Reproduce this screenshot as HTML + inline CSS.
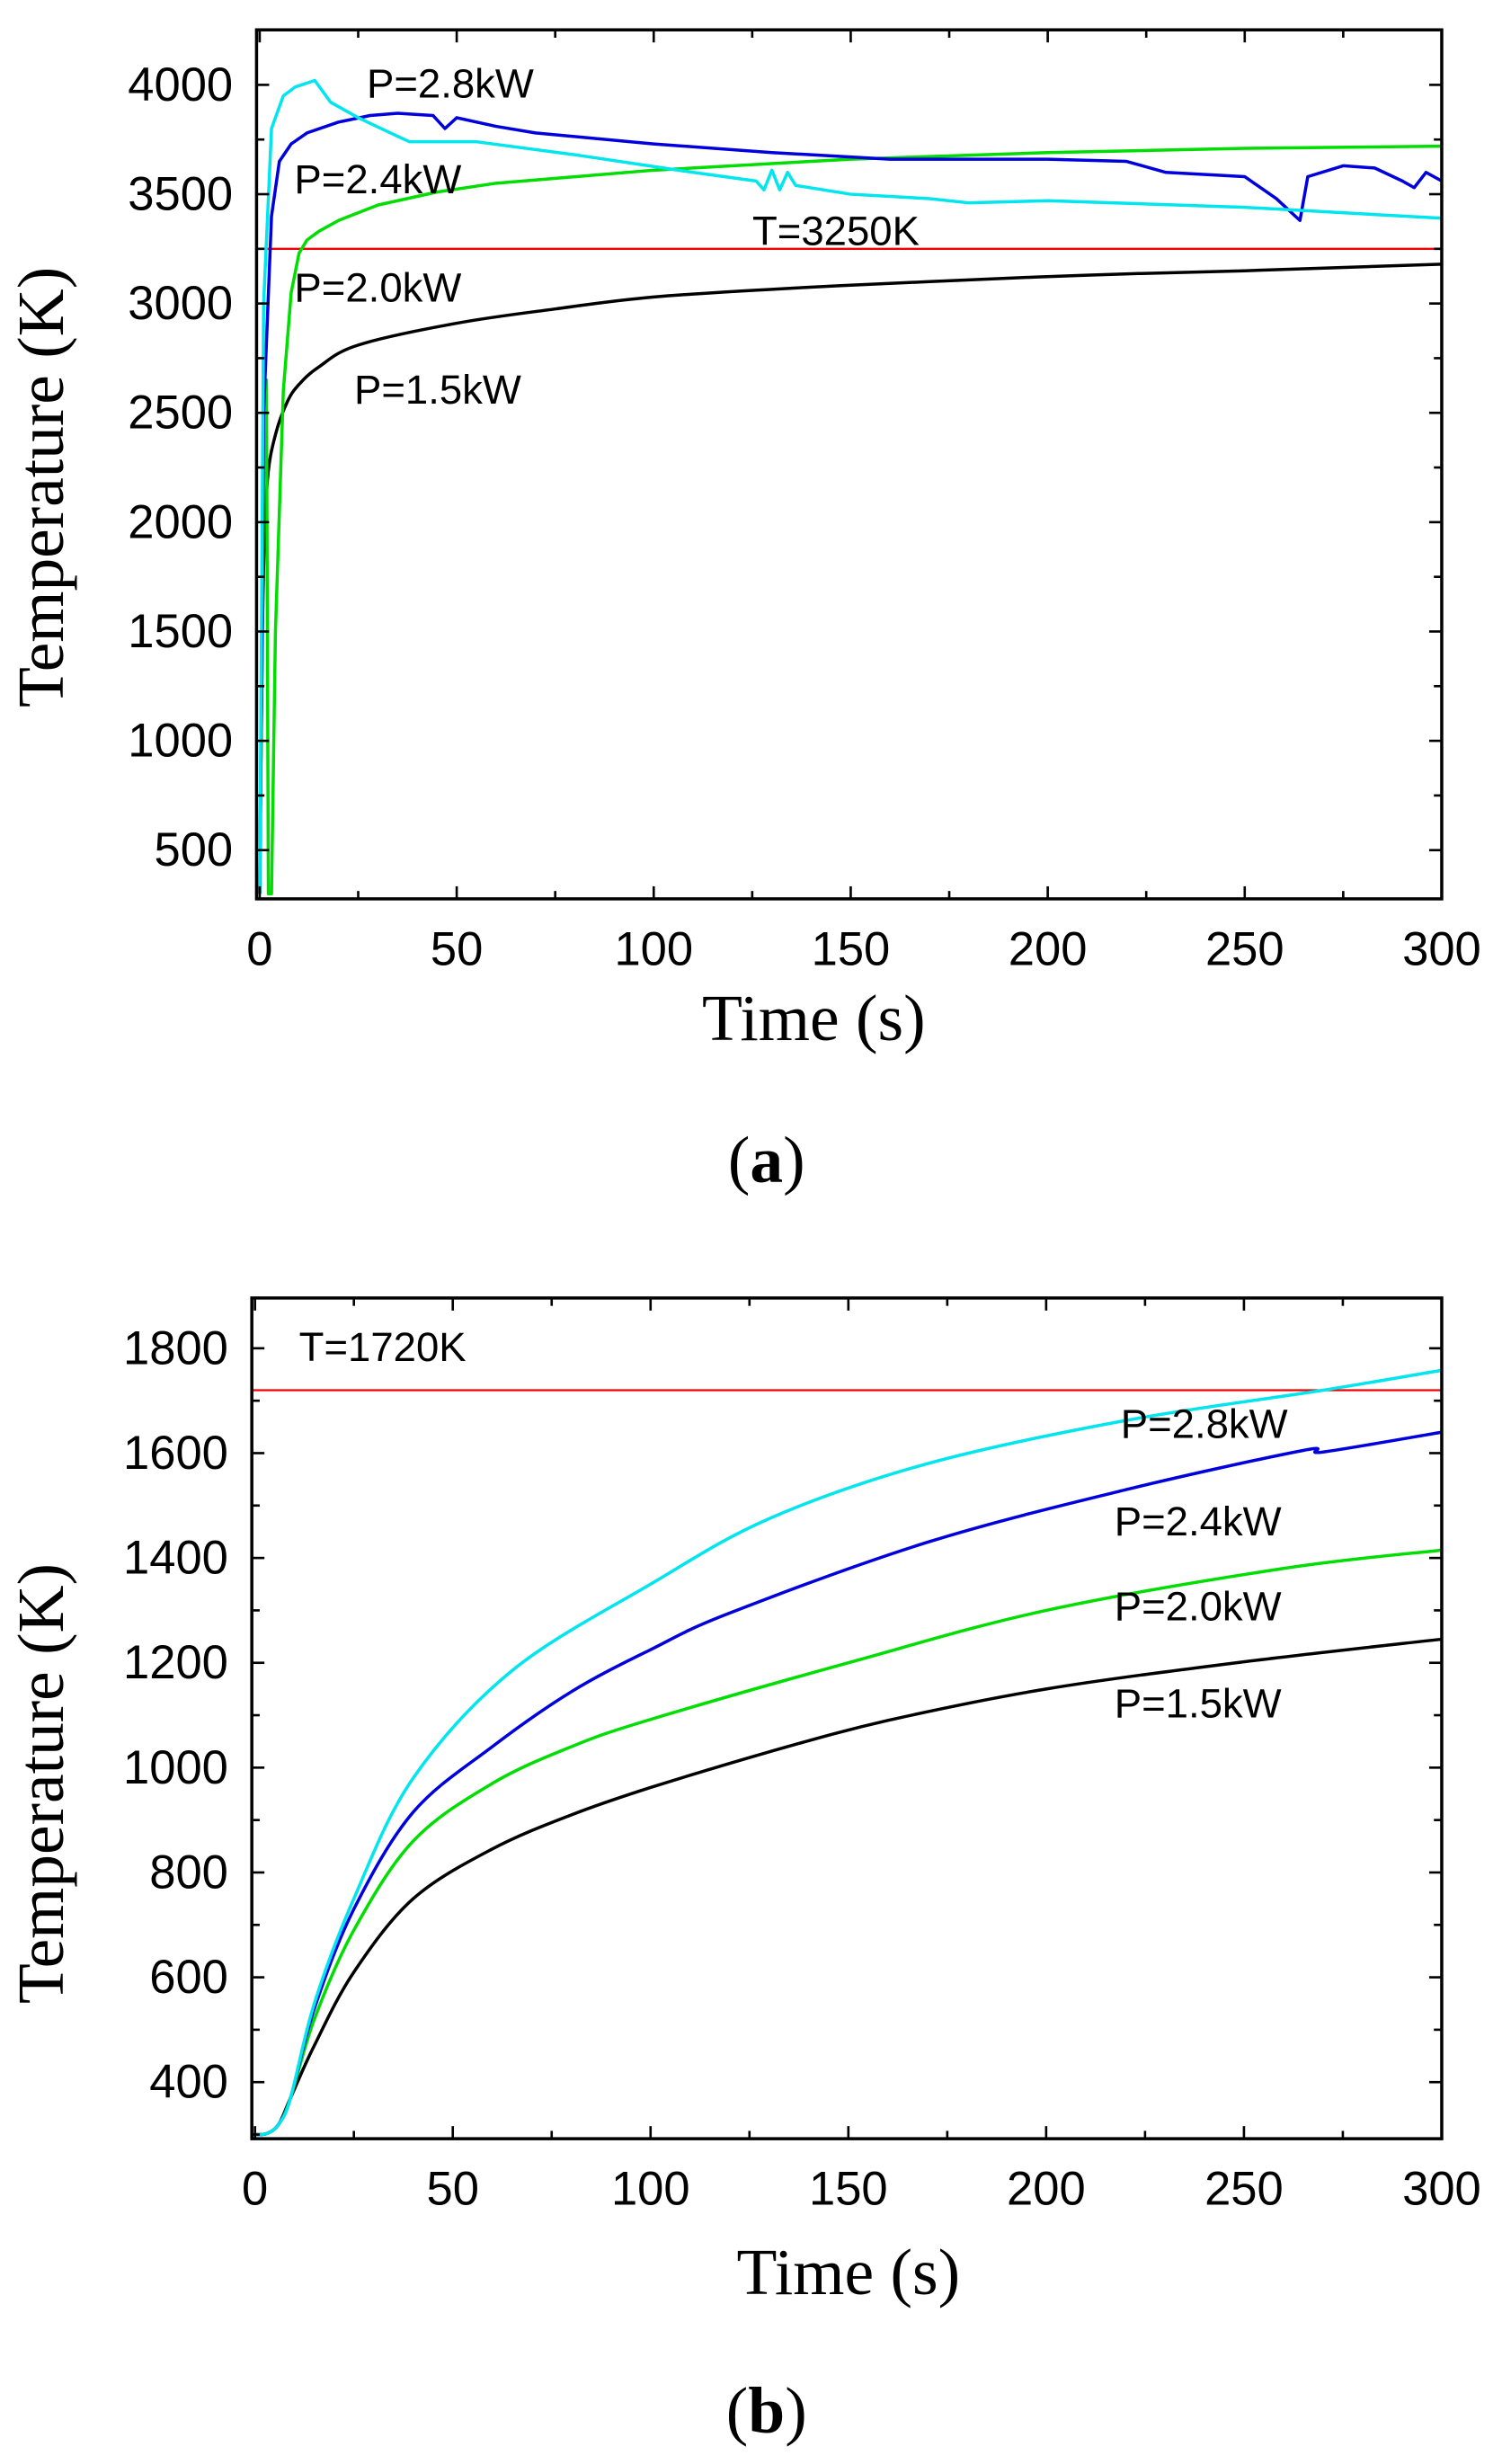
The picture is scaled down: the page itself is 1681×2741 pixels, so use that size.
<!DOCTYPE html>
<html><head><meta charset="utf-8"><style>
html,body{margin:0;padding:0;background:#fff;}
svg{display:block;}
.t{font-family:"Liberation Sans",sans-serif;font-size:30px;fill:#000;}
.s{font-family:"Liberation Serif",serif;font-size:42px;fill:#000;}
.l{font-family:"Liberation Sans",sans-serif;font-size:26px;fill:#000;}
</style></head><body>
<svg id="svg" width="1681" height="2741" viewBox="0 0 960 1568" preserveAspectRatio="none" xmlns="http://www.w3.org/2000/svg">
<g id="g"></g>
<text class="s" x="25" y="295" text-anchor="middle" transform="rotate(-90 40 295)">Temperature (K)</text>
<text class="s" x="517" y="662" text-anchor="middle">Time (s)</text>
<text class="s" x="487" y="752" text-anchor="middle">(<tspan font-weight="bold">a</tspan>)</text>
<text class="s" x="25" y="1120" text-anchor="middle" transform="rotate(-90 40 1120)">Temperature (K)</text>
<text class="s" x="539" y="1460" text-anchor="middle">Time (s)</text>
<text class="s" x="487" y="1548" text-anchor="middle">(<tspan font-weight="bold">b</tspan>)</text>
<text class="l" x="233" y="62">P=2.8kW</text>
<text class="l" x="187" y="123">P=2.4kW</text>
<text class="l" x="478" y="156">T=3250K</text>
<text class="l" x="187" y="192">P=2.0kW</text>
<text class="l" x="225" y="257">P=1.5kW</text>
<text class="l" x="190" y="866">T=1720K</text>
<text class="l" x="712" y="915">P=2.8kW</text>
<text class="l" x="708" y="977">P=2.4kW</text>
<text class="l" x="708" y="1031">P=2.0kW</text>
<text class="l" x="708" y="1093">P=1.5kW</text>
</svg>
<script>
var g=document.getElementById('g'),NS='http://www.w3.org/2000/svg';
function el(n,a){var e=document.createElementNS(NS,n);for(var k in a)e.setAttribute(k,a[k]);g.appendChild(e);return e;}
function smoothPath(P){
 var d='M'+P[0][0].toFixed(1)+' '+P[0][1].toFixed(1);
 for(var i=0;i<P.length-1;i++){
  var p0=P[i-1]||P[i],p1=P[i],p2=P[i+1],p3=P[i+2]||p2;
  var c1=[p1[0]+(p2[0]-p0[0])/6,p1[1]+(p2[1]-p0[1])/6];
  var c2=[p2[0]-(p3[0]-p1[0])/6,p2[1]-(p3[1]-p1[1])/6];
  d+='C'+c1[0].toFixed(1)+' '+c1[1].toFixed(1)+' '+c2[0].toFixed(1)+' '+c2[1].toFixed(1)+' '+p2[0].toFixed(1)+' '+p2[1].toFixed(1);
 }
 return d;
}
function chart(c){
 var X=function(t){return c.x0+(c.x1-c.x0)*t/300;};
 var Y=function(v){return c.ya+(c.yb-c.ya)*(v-c.va)/(c.vb-c.va);};
 el('defs',{}).innerHTML='<clipPath id="c'+c.id+'"><rect x="'+c.L+'" y="'+c.T+'" width="'+(c.R-c.L)+'" height="'+(c.B-c.T)+'"/></clipPath>';
 el('line',{x1:c.L,x2:c.R,y1:Y(c.ref),y2:Y(c.ref),stroke:'#e00',"stroke-width":1.3});
 var cols={k:'#000',g:'#00dd00',b:'#0000dd',c:'#00e5ee'};
 c.series.forEach(function(s){
  var P=s.p.map(function(p){return [X(p[0]),Y(p[1])];});
  var d=s.sm?smoothPath(P):P.map(function(p,i){return (i?'L':'M')+p[0].toFixed(1)+' '+p[1].toFixed(1);}).join('');
  el('path',{d:d,fill:'none',stroke:cols[s.c],"stroke-width":2,"stroke-linejoin":"round","clip-path":'url(#c'+c.id+')'});
 });
 el('rect',{x:c.L,y:c.T,width:c.R-c.L,height:c.B-c.T,fill:'none',stroke:'#000',"stroke-width":2});
 for(var t=0;t<=300;t+=25){var x=X(t),M=t%50==0,len=M?8:5;
  el('line',{x1:x,x2:x,y1:c.B,y2:c.B-len,stroke:'#000',"stroke-width":1.5});
  el('line',{x1:x,x2:x,y1:c.T,y2:c.T+len,stroke:'#000',"stroke-width":1.5});
  if(M){var e=el('text',{x:x,y:c.B+42,"text-anchor":"middle","class":"t"});e.textContent=t;}}
 for(var v=c.va;v<=c.vmax;v+=c.step/2){var y=Y(v),M=Math.round((v-c.va)/c.step*2)%2==0,len=M?8:5;
  if(y<c.T||y>c.B)continue;
  el('line',{x1:c.L,x2:c.L+len,y1:y,y2:y,stroke:'#000',"stroke-width":1.5});
  el('line',{x1:c.R,x2:c.R-len,y1:y,y2:y,stroke:'#000',"stroke-width":1.5});
  if(M){var e=el('text',{x:c.L-15,y:y+10,"text-anchor":"end","class":"t"});e.textContent=v;}}
 var y=Y(c.va-c.step/2);if(y<c.B)el('line',{x1:c.L,x2:c.L+5,y1:y,y2:y,stroke:'#000',"stroke-width":1.5});
}
chart({id:1,L:163,R:916,T:19,B:572,x0:165,x1:916,ya:541,yb:54,va:500,vb:4000,vmax:4000,step:500,ref:3250,series:[
 {c:'k',sm:1,p:[[0,300],[0.5,1200],[1,1800],[2,2200],[4,2400],[7,2550],[10,2630],[15,2710],[25,2810],[50,2910],[75,2975],[100,3030],[135,3070],[170,3100],[210,3130],[250,3150],[300,3180]]},
 {c:'g',p:[[0,300],[1,2200],[1.7,2650],[2.2,300],[3,300],[4,1500],[6,2600],[8,3050],[10,3230],[12,3290],[15,3330],[20,3380],[30,3450],[45,3510],[60,3550],[100,3610],[150,3660],[200,3690],[250,3710],[300,3720]]},
 {c:'b',p:[[0,300],[1,2500],[3,3400],[5,3650],[8,3730],[12,3780],[20,3830],[28,3860],[35,3870],[44,3860],[47,3800],[50,3850],[60,3810],[70,3780],[100,3730],[130,3690],[160,3660],[200,3660],[220,3650],[230,3600],[250,3580],[258,3480],[264,3380],[266,3580],[275,3630],[283,3620],[290,3560],[293,3530],[296,3600],[300,3560]]},
 {c:'c',p:[[0,300],[1,3000],[3,3800],[6,3950],[9,3990],[14,4020],[18,3920],[25,3850],[32,3790],[38,3740],[55,3740],[80,3680],[110,3600],[126,3560],[128,3520],[130,3610],[132,3520],[134,3600],[136,3540],[150,3500],[170,3480],[180,3460],[200,3470],[250,3440],[300,3390]]}
]});
function grow(pts){return [[0,300],[3,302],[6,320],[9,370]].concat(pts);}
chart({id:2,L:160,R:916,T:826,B:1361,x0:162,x1:916,ya:1325,yb:858,va:400,vb:1800,vmax:1800,step:200,ref:1720,series:[
 {c:'k',sm:1,p:grow([[15,470],[25,610],[40,750],[60,845],[80,910],[100,962],[130,1030],[160,1090],[200,1150],[250,1202],[300,1245]])},
 {c:'g',sm:1,p:grow([[15,520],[25,690],[40,860],[60,970],[80,1040],[100,1092],[150,1200],[200,1300],[260,1380],[300,1415]])},
 {c:'b',sm:1,p:grow([[15,540],[25,730],[40,915],[60,1040],[80,1145],[100,1225],[120,1295],[170,1430],[220,1530],[265,1605],[270,1602],[300,1640]])},
 {c:'c',sm:1,p:grow([[15,550],[25,750],[40,980],[65,1185],[100,1350],[130,1475],[170,1580],[220,1662],[270,1720],[300,1758]])}
]});
</script>
</body></html>
